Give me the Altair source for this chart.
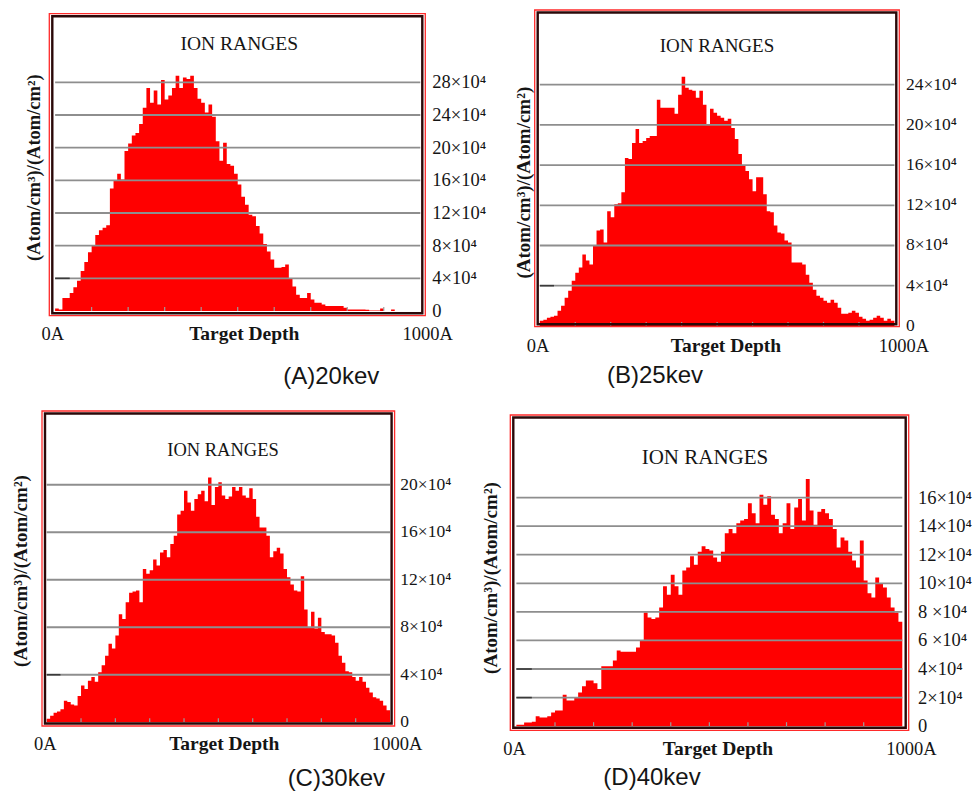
import altair as alt
import pandas as pd

# Target depth: 100 bins of 10 Å each, 0 to 1000 Å (last edge closes the step profile)
BIN_EDGES = list(range(0, 1001, 10))
DEPTH_TICKS = [100, 200, 300, 400, 500, 600, 700, 800, 900]

# Ion concentration per depth bin, in units of 10^4 (Atom/cm3)/(Atom/cm2)
conc_20kev = [
    0.3, 0.2, 1.6, 1.6, 2.2, 2.9, 3.7, 4.9, 6.0, 7.2,
    8.0, 9.3, 9.9, 10.2, 10.5, 15.0, 16.0, 16.8, 16.1, 19.6,
    20.5, 21.5, 21.8, 22.9, 24.9, 27.3, 25.5, 27.0, 25.3, 28.3,
    25.9, 26.4, 27.3, 28.8, 27.3, 28.6, 28.4, 28.8, 27.3, 26.0,
    25.5, 24.3, 25.3, 23.8, 20.8, 18.4, 20.6, 18.0, 17.8, 16.8,
    15.5, 14.0, 13.0, 11.8, 11.6, 10.4, 9.5, 8.2, 7.3, 6.3,
    5.3, 5.3, 5.4, 5.7, 4.0, 3.0, 2.0, 1.6, 1.6, 2.2,
    1.4, 1.0, 1.0, 0.8, 0.6, 0.6, 0.6, 0.6, 0.6, 0.4,
    0.2, 0.2, 0.2, 0.2, 0.2, 0.15, 0.05, 0.05, 0.05, 0.3,
    0.0, 0.0, 0.2, 0.0, 0.0, 0.0, 0.0, 0.0, 0.0, 0.0,
]
conc_25kev = [
    0.5, 0.6, 0.8, 0.9, 1.0, 1.5, 2.0, 2.8, 3.5, 4.5,
    5.3, 5.8, 7.1, 6.5, 6.1, 8.0, 9.5, 9.6, 8.3, 11.4,
    10.8, 12.1, 12.2, 13.3, 16.7, 16.6, 18.2, 19.6, 18.2, 18.4,
    18.7, 18.9, 18.9, 22.5, 21.7, 21.7, 21.7, 21.7, 21.1, 23.0,
    24.8, 23.7, 23.5, 23.4, 22.7, 23.4, 22.0, 20.0, 21.6, 21.2,
    20.9, 20.7, 20.4, 20.6, 19.7, 18.6, 17.1, 15.9, 15.4, 14.6,
    13.4, 14.8, 14.8, 13.1, 11.4, 11.3, 10.0, 9.3, 9.2, 8.5,
    8.3, 6.3, 6.3, 6.3, 6.1, 5.1, 4.3, 3.6, 3.0, 2.8,
    2.5, 2.3, 2.6, 2.3, 1.8, 1.2, 1.2, 1.3, 1.5, 1.3,
    0.9, 0.7, 0.5, 0.6, 0.8, 1.0, 0.8, 0.5, 0.7, 0.5,
]
conc_30kev = [
    0.3, 0.55, 0.8, 0.9, 1.1, 1.8, 1.7, 1.5, 1.4, 2.2,
    3.1, 2.8, 3.5, 3.8, 3.4, 4.2, 4.8, 5.6, 6.6, 6.2,
    7.3, 9.1, 8.7, 10.1, 10.9, 11.0, 11.1, 10.1, 12.9, 12.5,
    12.8, 13.7, 13.2, 14.3, 14.5, 13.9, 15.0, 15.7, 17.5, 17.8,
    19.5, 18.5, 17.8, 18.8, 19.2, 19.5, 18.6, 20.6, 18.3, 19.8,
    20.2, 19.1, 18.8, 19.0, 19.8, 19.5, 19.8, 19.1, 18.9, 19.7,
    18.8, 17.3, 16.4, 16.4, 15.7, 13.9, 14.4, 14.7, 14.2, 12.9,
    12.2, 11.6, 11.1, 11.0, 12.3, 9.5, 8.0, 9.3, 7.9, 8.8,
    7.6, 7.4, 7.4, 7.3, 6.7, 5.6, 5.0, 4.3, 4.2, 3.8,
    3.5, 3.8, 3.4, 2.9, 2.5, 2.1, 2.0, 1.8, 1.4, 1.0,
]
conc_40kev = [
    0.1, 0.1, 0.25, 0.25, 0.3, 0.7, 0.6, 0.6, 0.7, 0.95,
    1.1, 1.1, 2.2, 1.8, 1.8, 2.0, 2.35, 2.8, 3.2, 3.2,
    3.0, 2.6, 4.2, 4.2, 4.2, 4.6, 5.3, 5.2, 5.2, 5.2,
    5.2, 5.5, 6.0, 7.95, 7.6, 7.5, 7.6, 8.3, 9.8, 9.2,
    10.6, 9.8, 9.2, 10.9, 11.1, 11.9, 11.3, 12.2, 12.6, 12.4,
    12.3, 11.8, 11.5, 12.2, 13.5, 13.8, 13.5, 14.2, 14.4, 14.5,
    15.6, 14.9, 14.2, 16.2, 15.5, 16.1, 14.8, 14.5, 13.5, 14.2,
    15.6, 13.8, 15.3, 15.9, 14.4, 17.3, 15.1, 14.1, 15.0, 15.2,
    14.9, 14.5, 13.8, 12.5, 13.2, 13.0, 12.2, 11.6, 11.1, 13.0,
    10.2, 9.3, 9.0, 10.4, 10.0, 9.7, 9.0, 8.3, 7.95, 7.3,
]

# Concentration axis levels and their labels
levels_20kev = [0, 4, 8, 12, 16, 20, 24, 28]
labels_20kev = ["0", "4×10⁴", "8×10⁴", "12×10⁴", "16×10⁴", "20×10⁴", "24×10⁴", "28×10⁴"]
levels_25kev = [0, 4, 8, 12, 16, 20, 24]
labels_25kev = ["0", "4×10⁴", "8×10⁴", "12×10⁴", "16×10⁴", "20×10⁴", "24×10⁴"]
levels_30kev = [0, 4, 8, 12, 16, 20]
labels_30kev = ["0", "4×10⁴", "8×10⁴", "12×10⁴", "16×10⁴", "20×10⁴"]
levels_40kev = [0, 2, 4, 6, 8, 10, 12, 14, 16]
labels_40kev = ["0", "2×10⁴", "4×10⁴", "6 ×10⁴", "8 ×10⁴", "10×10⁴", "12×10⁴", "14×10⁴", "16×10⁴"]

# Levels whose gridline starts with a short dark stub
stub_levels_20kev = [4]
stub_levels_25kev = [4]
stub_levels_30kev = [4]
stub_levels_40kev = [2, 4]

captions = ["(A)20kev", "(B)25kev", "(C)30kev", "(D)40kev"]

SERIF = "Liberation Serif"
SANS = "Liberation Sans"
RED = "#ff0000"
GRID = "#8e8e8e"
INK = "#151515"
Y_TITLE = "(Atom/cm³)/(Atom/cm²)"

# Panel geometry (pixels inside each panel cell, scale domains)
geom_a = dict(w=383.3, h=316.7, xdom=[-35.9, 1013.7], ydom=[-1.92, 36.86],
              frame=(7.3, 3.7, 383.3, 305.7), tick_len=0.49, lab_x=390.3, lab_size=18.5,
              title=(197.3, 33.7), title_size=19.5, ytitle=(-7.7, 157.7), ytitle_size=18.5,
              xlab_y=323.7, xlab=(10.8, 202.3, 385.8), caption=(289.3, 366.7), anchor=True)
geom_b = dict(w=398.4, h=316.7, xdom=[-83.2, 1040.3], ydom=[-0.08, 31.43],
              frame=(24.4, 0.0, 389.0, 316.7), tick_len=0.4, lab_x=395.7, lab_size=17.5,
              title=(206.7, 35.7), title_size=19, ytitle=(13.7, 172.7), ytitle_size=19,
              xlab_y=335.7, xlab=(27.7, 215.7, 393.7), caption=(144.7, 365.7), anchor=False)
geom_c = dict(w=383.3, h=319.3, xdom=[-13.7, 1102.8], ydom=[-0.68, 26.21],
              frame=(0.0, 0.0, 352.6, 315.0), tick_len=0.34, lab_x=358.3, lab_size=17.5,
              title=(181.0, 39.0), title_size=18.5, ytitle=(-20.7, 160.0), ytitle_size=19,
              xlab_y=333.0, xlab=(3.3, 182.3, 355.3), caption=(294.3, 368.0), anchor=False)
geom_d = dict(w=398.4, h=319.3, xdom=[-15.8, 1016.6], ydom=[-0.29, 22.06],
              frame=(0.0, 4.0, 398.4, 319.3), tick_len=0.28, lab_x=407.7, lab_size=18.5,
              title=(194.7, 47.0), title_size=21, ytitle=(-19.3, 167.0), ytitle_size=19,
              xlab_y=338.0, xlab=(4.2, 207.7, 401.2), caption=(141.7, 367.0), anchor=False)

ONE = pd.DataFrame({"k": [0]})


def text_at(text, x, y, size, font=SERIF, weight="normal", angle=0):
    return alt.Chart(pd.DataFrame({"t": [text]})).mark_text(
        font=font, fontSize=size, fontWeight=weight, angle=angle,
        align="center", baseline="middle", color=INK,
    ).encode(text="t:N", x=alt.value(x), y=alt.value(y))


def box(x0, y0, x1, y1, color, width):
    return alt.Chart(ONE).mark_rect(fill="transparent", stroke=color, strokeWidth=width).encode(
        x=alt.value(x0), x2=alt.value(x1), y=alt.value(y0), y2=alt.value(y1))


def ion_panel(conc, levels, labels, stubs, caption, g):
    xs = alt.Scale(domain=g["xdom"], nice=False, zero=False)
    ys = alt.Scale(domain=g["ydom"], nice=False, zero=False)

    profile = pd.DataFrame({"depth": BIN_EDGES, "conc": conc + conc[-1:]})
    lv = pd.DataFrame({"level": levels, "label": labels})
    grid = lv[lv["level"] > 0].assign(start=0, end=1000)
    stub = pd.DataFrame({"level": stubs}).assign(start=0, end=40)

    area = alt.Chart(profile).mark_area(interpolate="step-after", color=RED).encode(
        x=alt.X("depth:Q", scale=xs, axis=None),
        y=alt.Y("conc:Q", scale=ys, axis=None),
        y2=alt.datum(0),
    )
    gridlines = alt.Chart(grid).mark_rule(color=GRID, strokeWidth=1.8).encode(
        x=alt.X("start:Q", scale=xs, axis=None), x2="end:Q",
        y=alt.Y("level:Q", scale=ys, axis=None),
    )
    stublines = alt.Chart(stub).mark_rule(color="#3a3a3a", strokeWidth=1.6).encode(
        x=alt.X("start:Q", scale=xs, axis=None), x2="end:Q",
        y=alt.Y("level:Q", scale=ys, axis=None),
    )
    dticks = alt.Chart(pd.DataFrame({"d": DEPTH_TICKS})).mark_rule(
        color="#9c9c9c", strokeWidth=1.2
    ).encode(
        x=alt.X("d:Q", scale=xs, axis=None), y=alt.datum(0), y2=alt.datum(g["tick_len"]),
    )
    tick_labels = alt.Chart(lv).mark_text(
        align="left", baseline="middle", font=SERIF, fontSize=g["lab_size"], color=INK
    ).encode(
        y=alt.Y("level:Q", scale=ys, axis=None), x=alt.value(g["lab_x"]), text="label:N",
    )

    fx0, fy0, fx1, fy1 = g["frame"]
    inner = box(fx0 + 3, fy0 + 2.5, fx1 - 3, fy1 - 2.5, "#2a0808", 2.4)
    outer = box(fx0, fy0, fx1, fy1, "#ff2a2a", 1.3)

    layers = [area, gridlines, stublines, dticks, inner, outer, tick_labels,
              text_at("ION RANGES", g["title"][0], g["title"][1], g["title_size"]),
              text_at(Y_TITLE, g["ytitle"][0], g["ytitle"][1], g["ytitle_size"],
                      weight="bold", angle=270),
              text_at("0A", g["xlab"][0], g["xlab_y"], 18.5),
              text_at("Target Depth", g["xlab"][1], g["xlab_y"], 19.5, weight="bold"),
              text_at("1000A", g["xlab"][2], g["xlab_y"], 18.5),
              text_at(caption, g["caption"][0], g["caption"][1], 24, font=SANS)]
    if g["anchor"]:
        # white corner mark pinning the page origin
        layers.append(alt.Chart(ONE).mark_rect(color="white").encode(
            x=alt.value(-40.7), x2=alt.value(-40.2), y=alt.value(-9.3), y2=alt.value(-8.8)))
    return alt.layer(*layers).properties(width=g["w"], height=g["h"])


panels = [
    ion_panel(conc_20kev, levels_20kev, labels_20kev, stub_levels_20kev, captions[0], geom_a),
    ion_panel(conc_25kev, levels_25kev, labels_25kev, stub_levels_25kev, captions[1], geom_b),
    ion_panel(conc_30kev, levels_30kev, labels_30kev, stub_levels_30kev, captions[2], geom_c),
    ion_panel(conc_40kev, levels_40kev, labels_40kev, stub_levels_40kev, captions[3], geom_d),
]

chart = alt.concat(
    *panels, columns=2, spacing={"row": 84, "column": 84.3}, bounds="flush", align="each"
).properties(padding=0, background="white").configure_view(
    stroke="transparent"
).configure_axis(disable=True)

chart.save("out.html", embed_options={"renderer": "svg", "actions": False})
